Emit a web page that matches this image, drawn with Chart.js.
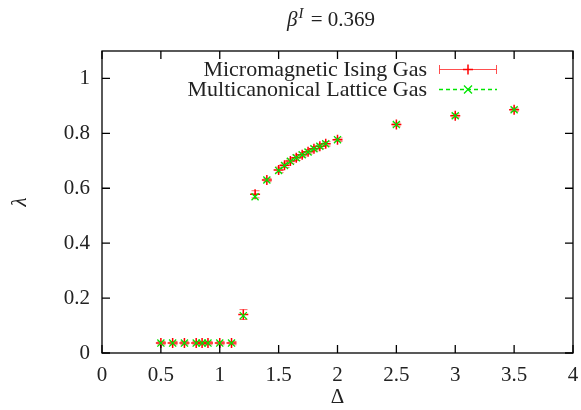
<!DOCTYPE html>
<html>
<head>
<meta charset="utf-8">
<script src="https://cdn.jsdelivr.net/npm/chart.js@4.4.0/dist/chart.umd.min.js"></script>
<style>
  html, body { margin: 0; padding: 0; background: #fff; }
  #wrap { width: 581px; height: 410px; }
</style>
</head>
<body>
<div id="wrap"><canvas id="myChart" width="581" height="410"></canvas></div>
<script>
// data
var delta = [0.5, 0.6, 0.7, 0.8, 0.85, 0.9, 1.0, 1.1, 1.2, 1.3, 1.4, 1.5, 1.55, 1.6, 1.65, 1.7, 1.75, 1.8, 1.85, 1.9, 2.0, 2.5, 3.0, 3.5];
var isingGas = [0.036, 0.036, 0.036, 0.036, 0.036, 0.036, 0.036, 0.036, 0.14, 0.578, 0.63, 0.667, 0.684, 0.699, 0.711, 0.722, 0.733, 0.744, 0.753, 0.762, 0.777, 0.832, 0.864, 0.886];
var isingErr = [0.006, 0.006, 0.006, 0.006, 0.006, 0.006, 0.006, 0.006, 0.018, 0.013, 0.006, 0.01, 0.008, 0.008, 0.01, 0.008, 0.008, 0.008, 0.008, 0.008, 0.006, 0.006, 0.007, 0.006];
var latticeGas = [0.036, 0.036, 0.036, 0.036, 0.036, 0.036, 0.036, 0.036, 0.136, 0.569, 0.63, 0.665, 0.683, 0.698, 0.711, 0.722, 0.732, 0.744, 0.753, 0.762, 0.777, 0.832, 0.864, 0.886];
var xTicks = [0, 0.5, 1, 1.5, 2, 2.5, 3, 3.5, 4];
var yTicks = [0, 0.2, 0.4, 0.6, 0.8, 1];

var serif = "'Liberation Serif', 'Times New Roman', serif";
var red = 'rgb(255, 0, 0)';
var green = 'rgb(0, 230, 0)';

function pts(vals) {
    return delta.map(function (d, i) { return { x: d, y: vals[i] }; });
}

// error bars, frame, inward ticks, title and legend (gnuplot look)
var gnuplotLook = {
    id: 'gnuplotLook',
    beforeDatasetsDraw: function (chart) {
        var ctx = chart.ctx, x = chart.scales.x, y = chart.scales.y;
        ctx.save();
        ctx.strokeStyle = 'rgba(255, 60, 60, 0.8)';
        ctx.lineWidth = 1;
        delta.forEach(function (d, i) {
            var px = Math.round(x.getPixelForValue(d)) + 0.5;
            var top = y.getPixelForValue(isingGas[i] + isingErr[i]);
            var bot = y.getPixelForValue(isingGas[i] - isingErr[i]);
            ctx.beginPath();
            ctx.moveTo(px, top); ctx.lineTo(px, bot);
            ctx.moveTo(px - 4, top); ctx.lineTo(px + 4, top);
            ctx.moveTo(px - 4, bot); ctx.lineTo(px + 4, bot);
            ctx.stroke();
        });
        ctx.restore();
    },
    afterDraw: function (chart) {
        var ctx = chart.ctx, a = chart.chartArea, x = chart.scales.x, y = chart.scales.y;
        ctx.save();
        ctx.strokeStyle = '#000';
        ctx.lineWidth = 1.3;
        ctx.strokeRect(a.left, a.top, a.right - a.left, a.bottom - a.top);
        ctx.beginPath();
        xTicks.forEach(function (v) {
            var px = x.getPixelForValue(v);
            ctx.moveTo(px, a.bottom); ctx.lineTo(px, a.bottom - 8);
            ctx.moveTo(px, a.top); ctx.lineTo(px, a.top + 8);
        });
        yTicks.forEach(function (v) {
            var py = y.getPixelForValue(v);
            ctx.moveTo(a.left, py); ctx.lineTo(a.left + 8, py);
            ctx.moveTo(a.right, py); ctx.lineTo(a.right - 8, py);
        });
        ctx.stroke();

        // title: beta^I = 0.369
        ctx.fillStyle = '#222';
        ctx.textBaseline = 'alphabetic';
        ctx.textAlign = 'left';
        var f1 = 'italic 21px ' + serif, f2 = 'italic 15px ' + serif, f3 = '21px ' + serif;
        ctx.font = f1; var w1 = ctx.measureText('\u03b2').width;
        ctx.font = f2; var w2 = ctx.measureText('I').width + 3;
        ctx.font = f3; var w3 = ctx.measureText(' = 0.369').width;
        var tx = 331 - (w1 + w2 + w3) / 2, ty = 26;
        ctx.font = f1; ctx.fillText('\u03b2', tx, ty);
        ctx.font = f2; ctx.fillText('I', tx + w1 + 1, ty - 8);
        ctx.font = f3; ctx.fillText(' = 0.369', tx + w1 + w2, ty);

        // legend
        ctx.font = '22px ' + serif;
        ctx.textAlign = 'right';
        ctx.textBaseline = 'middle';
        ctx.fillText('Micromagnetic Ising Gas', 427, 70);
        ctx.fillText('Multicanonical Lattice Gas', 427, 90);
        ctx.lineWidth = 1;
        ctx.strokeStyle = 'rgba(255, 60, 60, 0.9)';
        ctx.beginPath();
        ctx.moveTo(439, 69.5); ctx.lineTo(497, 69.5);
        ctx.moveTo(439.5, 65); ctx.lineTo(439.5, 74);
        ctx.moveTo(496.5, 65); ctx.lineTo(496.5, 74);
        ctx.stroke();
        ctx.strokeStyle = red;
        ctx.lineWidth = 1.5;
        ctx.beginPath();
        ctx.moveTo(468, 64.5); ctx.lineTo(468, 74.5);
        ctx.moveTo(463, 69.5); ctx.lineTo(473, 69.5);
        ctx.stroke();
        ctx.strokeStyle = green;
        ctx.lineWidth = 1.3;
        ctx.setLineDash([4, 3]);
        ctx.beginPath();
        ctx.moveTo(439, 89.5); ctx.lineTo(497, 89.5);
        ctx.stroke();
        ctx.setLineDash([]);
        ctx.beginPath();
        ctx.moveTo(464, 85.5); ctx.lineTo(472, 93.5);
        ctx.moveTo(472, 85.5); ctx.lineTo(464, 93.5);
        ctx.stroke();
        ctx.restore();
    }
};

const ctx = document.getElementById('myChart').getContext('2d');
const myChart = new Chart(ctx, {
    type: 'scatter',
    data: {
        datasets: [{
            label: 'Micromagnetic Ising Gas',
            data: pts(isingGas),
            pointStyle: 'cross',
            pointRadius: 5,
            borderWidth: 1.5,
            borderColor: red,
            backgroundColor: red,
            order: 1
        }, {
            label: 'Multicanonical Lattice Gas',
            data: pts(latticeGas),
            pointStyle: 'crossRot',
            pointRadius: 5,
            borderWidth: 1.3,
            borderColor: green,
            backgroundColor: green,
            order: 0
        }]
    },
    options: {
        responsive: false,
        animation: false,
        layout: { padding: { top: 51, right: 8, left: 0, bottom: 0 } },
        plugins: { legend: { display: false }, tooltip: { enabled: false }, title: { display: false } },
        scales: {
            x: {
                type: 'linear',
                min: 0, max: 4,
                grid: { display: false },
                border: { display: false },
                afterBuildTicks: function (s) { s.ticks = xTicks.map(function (v) { return { value: v }; }); },
                afterFit: function (s) { s.height = 57; },
                ticks: {
                    padding: 2,
                    color: '#222',
                    font: { family: serif, size: 21 },
                    callback: function (v) { return String(v); }
                },
                title: { display: true, text: '\u0394', color: '#222', font: { family: serif, size: 21 }, padding: { top: 0, bottom: 0 } }
            },
            y: {
                type: 'linear',
                min: 0, max: 1.1,
                grid: { display: false },
                border: { display: false },
                afterBuildTicks: function (s) { s.ticks = yTicks.map(function (v) { return { value: v }; }); },
                afterFit: function (s) { s.width = 102; },
                ticks: {
                    padding: 4,
                    color: '#222',
                    font: { family: serif, size: 21 },
                    callback: function (v) { return String(v); }
                },
                title: { display: true, text: '\u03bb', color: '#222', font: { family: serif, size: 21, style: 'italic' }, padding: { top: 8, bottom: 0 } }
            }
        }
    },
    plugins: [gnuplotLook]
});
</script>
</body>
</html>
